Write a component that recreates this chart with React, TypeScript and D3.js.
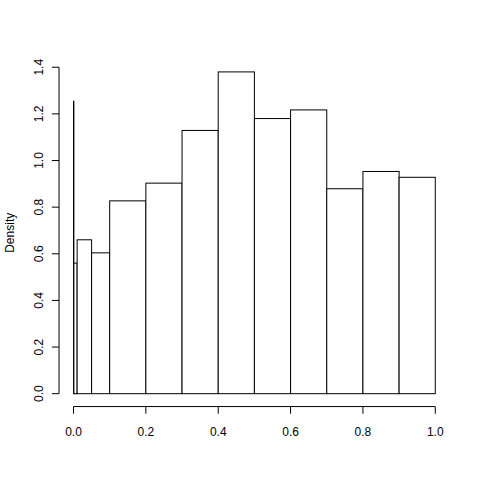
import React from "react";
import * as d3 from "d3";

const breaks = [0, 0.001, 0.01, 0.05, 0.1, 0.2, 0.3, 0.4, 0.5, 0.6, 0.7, 0.8, 0.9, 1.0];
const density = [1.254, 0.56, 0.66, 0.604, 0.827, 0.903, 1.129, 1.38, 1.18, 1.217, 0.879, 0.953, 0.928];
const xTicks = [0, 0.2, 0.4, 0.6, 0.8, 1.0];
const yTicks = [0, 0.2, 0.4, 0.6, 0.8, 1.0, 1.2, 1.4];
const yLabel = "Density";

export default function App() {
  const W = 480, H = 480;
  const left = 59.04, right = 449.76, top = 59.04, bottom = 406.56;
  const x = d3.scaleLinear().domain([-0.04, 1.04]).range([left, right]);
  const ymax = d3.max(density) as number;
  const pad = ymax * 0.04;
  const y = d3.scaleLinear().domain([-pad, ymax + pad]).range([bottom, top]);
  const font = "'Liberation Sans', Arial, Helvetica, sans-serif";
  const bars = density.map((d, i) => ({ x0: breaks[i], x1: breaks[i + 1], d }));
  return (
    <svg width={W} height={H} style={{ position: "absolute", left: 0, top: 0, background: "#fff" }}>
      <rect x={0} y={0} width={W} height={H} fill="#fff" />
      {bars.map((b, i) => (
        <rect
          key={i}
          x={x(b.x0)}
          y={y(b.d)}
          width={Math.max(0, x(b.x1) - x(b.x0))}
          height={y(0) - y(b.d)}
          fill="#fff"
          stroke="#000"
          strokeWidth={1}
        />
      ))}
      {/* x axis */}
      <line x1={x(xTicks[0])} x2={x(xTicks[xTicks.length - 1])} y1={bottom} y2={bottom} stroke="#000" />
      {xTicks.map((t) => (
        <g key={t}>
          <line x1={x(t)} x2={x(t)} y1={bottom} y2={bottom + 7.2} stroke="#000" />
          <text x={x(t)} y={436} textAnchor="middle" fontFamily={font} fontSize={12}>
            {t.toFixed(1)}
          </text>
        </g>
      ))}
      {/* y axis */}
      <line x1={left} x2={left} y1={y(yTicks[0])} y2={y(yTicks[yTicks.length - 1])} stroke="#000" />
      {yTicks.map((t) => (
        <g key={t}>
          <line x1={left - 7.2} x2={left} y1={y(t)} y2={y(t)} stroke="#000" />
          <text
            transform={`translate(${42.5},${y(t)}) rotate(-90)`}
            textAnchor="middle"
            fontFamily={font}
            fontSize={12}
          >
            {t.toFixed(1)}
          </text>
        </g>
      ))}
      <text
        transform={`translate(${14},${(top + bottom) / 2}) rotate(-90)`}
        textAnchor="middle"
        fontFamily={font}
        fontSize={12}
      >
        {yLabel}
      </text>
    </svg>
  );
}
